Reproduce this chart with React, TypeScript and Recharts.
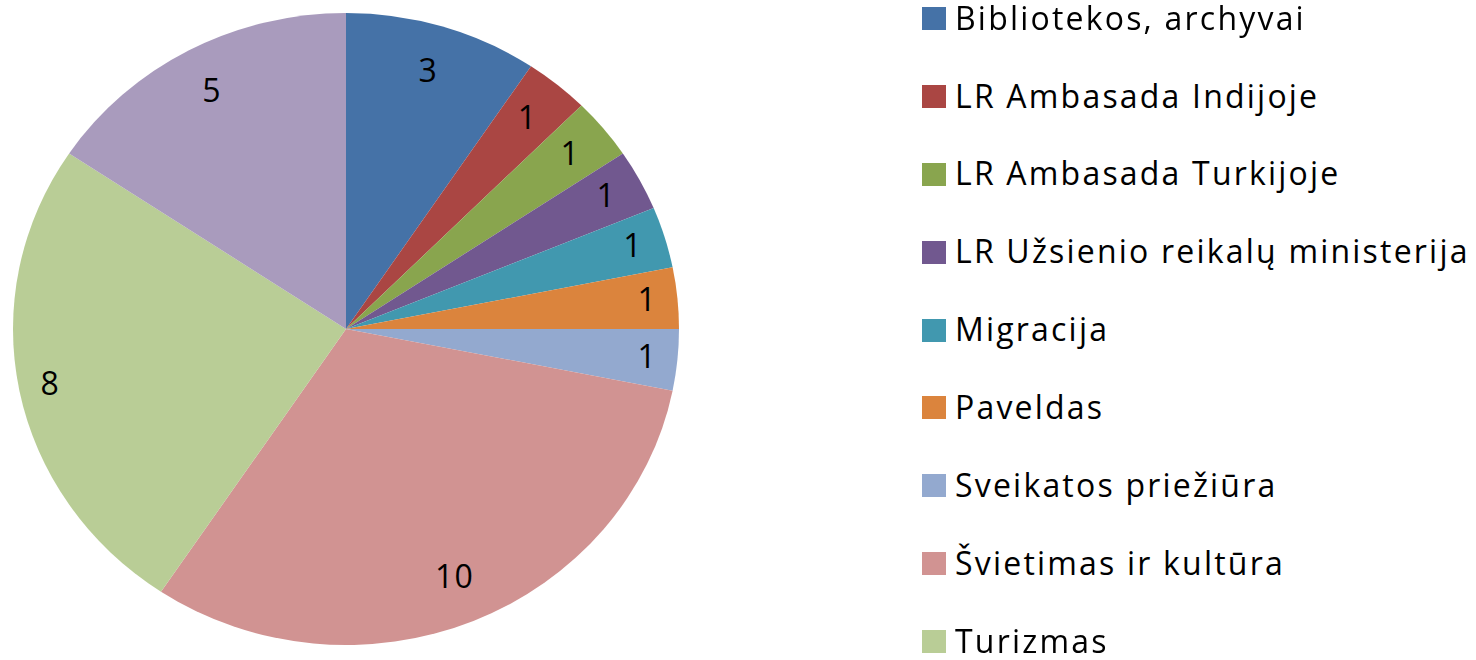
import { PieChart, Pie, Cell } from 'recharts';

const categories = [
  'Bibliotekos, archyvai',
  'LR Ambasada Indijoje',
  'LR Ambasada Turkijoje',
  'LR Užsienio reikalų ministerija',
  'Migracija',
  'Paveldas',
  'Sveikatos priežiūra',
  'Švietimas ir kultūra',
  'Turizmas',
  'Kita',
];
const values = [3, 1, 1, 1, 1, 1, 1, 10, 8, 5];
const colors = [
  '#4572A7', '#AA4643', '#89A54E', '#71588F', '#4198AF',
  '#DB843D', '#93A9CF', '#D19392', '#B9CD96', '#A99BBD',
];
// only the first 9 legend rows fit in the picture
const visibleLegend = 9;

const chartData = categories.map((name, i) => ({ name, value: values[i] }));

const FONT = '"Open Sans", sans-serif';
const RAD = Math.PI / 180;
const CX = 346;
const CY = 329;
const RADIUS = 333;
// the original pie is slightly squashed vertically
const SQUASH = 0.949;

const renderLabel = (props: any) => {
  const { cx, cy, midAngle, outerRadius, value } = props;
  const c = Math.cos(-midAngle * RAD);
  const s = Math.sin(-midAngle * RAD);
  // labels sit a bit further out on the flatter slices
  const r = outerRadius * (0.85 + 0.06 * c * c * c * c);
  return (
    <text
      x={cx + r * c}
      y={cy + r * s * SQUASH - 2}
      textAnchor="middle"
      dominantBaseline="central"
      fill="#000"
      fontSize={32}
      letterSpacing={1.2}
      fontFamily={FONT}
    >
      {value}
    </text>
  );
};

function LegendList() {
  return (
    <div
      style={{
        position: 'absolute',
        left: 922,
        top: 0,
        fontFamily: FONT,
        fontSize: 32,
        lineHeight: '34px',
        color: '#000',
        letterSpacing: 2.2,
      }}
    >
      {categories.slice(0, visibleLegend).map((name, i) => (
        <div key={name} style={{ position: 'absolute', left: 0, top: 0.6 + i * 77.9, display: 'flex', alignItems: 'flex-start' }}>
          <div style={{ width: 24, height: 23, marginTop: 6.4, background: colors[i], marginRight: 9, flexShrink: 0 }} />
          <span style={{ whiteSpace: 'nowrap' }}>{name}</span>
        </div>
      ))}
    </div>
  );
}

export default function App() {
  return (
    <div style={{ position: 'fixed', left: 0, top: 0, width: 1476, height: 660, background: '#fff' }}>
      <style>{`.recharts-pie-sector { transform: scaleY(${SQUASH}); transform-origin: ${CX}px ${CY}px; }`}</style>
      <PieChart width={1476} height={660} margin={{ top: 0, right: 0, bottom: 0, left: 0 }}>
        <Pie
          data={chartData}
          dataKey="value"
          nameKey="name"
          cx={CX}
          cy={CY}
          outerRadius={RADIUS}
          startAngle={90}
          endAngle={-270}
          stroke="none"
          label={renderLabel}
          labelLine={false}
          isAnimationActive={false}
        >
          {chartData.map((entry, i) => (
            <Cell key={entry.name} fill={colors[i]} />
          ))}
        </Pie>
      </PieChart>
      <LegendList />
    </div>
  );
}
